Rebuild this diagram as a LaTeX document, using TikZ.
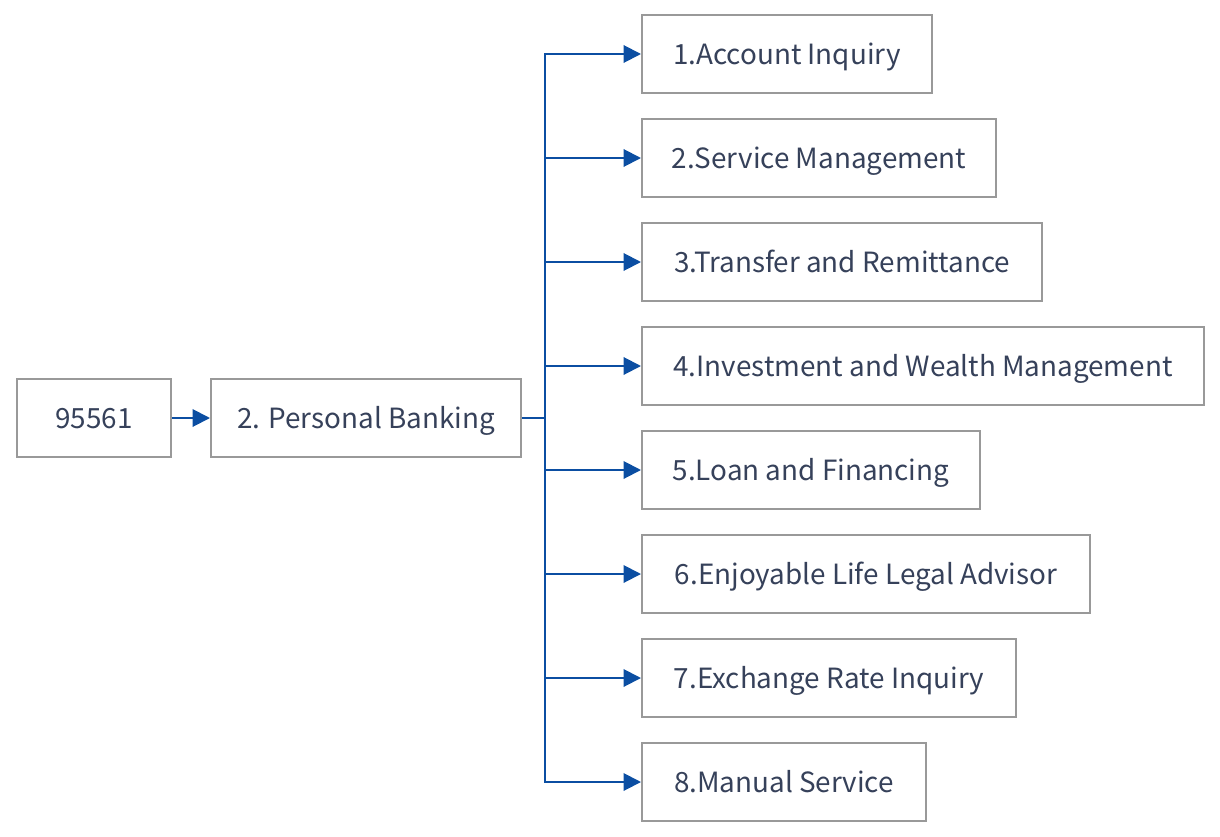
\documentclass[tikz,border=0pt]{standalone}
\usepackage{fontspec}
\setmainfont{Noto Sans CJK SC}
\usetikzlibrary{arrows.meta, positioning}
\definecolor{linkblue}{HTML}{0B4EA2}
\definecolor{boxgray}{HTML}{999999}
\definecolor{textslate}{HTML}{36415A}

\begin{document}
\begin{tikzpicture}[x=0.6pt, y=-0.6pt, >={Triangle[length=10.5pt, width=10.5pt]},
  every node/.style={draw=boxgray, line width=1.2pt, minimum height=46.8pt, inner xsep=0pt,
    text height=16pt, text depth=3pt, text=textslate, font=\fontsize{16.7}{20}\selectfont},
  link/.style={draw=linkblue, line width=1.2pt}]
\useasboundingbox (0,0) rectangle (1220,836);

  \node (hotline) [minimum width=92.4pt] at (94,418) {95561};
  \node (personal) [minimum width=186pt] at (366,418) {2. Personal Banking};
  \coordinate (trunk) at (545,418);

  \node (acct) [anchor=west, minimum width=174pt] at (641,54) {1.Account Inquiry};
  \node (service) [anchor=west, minimum width=212.4pt] at (641,158) {2.Service Management};
  \node (transfer) [anchor=west, minimum width=240pt] at (641,262) {3.Transfer and Remittance};
  \node (invest) [anchor=west, minimum width=337.2pt] at (641,366) {4.Investment and Wealth Management};
  \node (loan) [anchor=west, minimum width=202.8pt] at (641,470) {5.Loan and Financing};
  \node (legal) [anchor=west, minimum width=268.8pt] at (641,574) {6.Enjoyable Life Legal Advisor};
  \node (rate) [anchor=west, minimum width=224.4pt] at (641,678) {7.Exchange Rate Inquiry};
  \node (manual) [anchor=west, minimum width=170.4pt] at (641,782) {8.Manual Service};

  \draw[link, ->] (hotline) -- (personal);
  \draw[link] (personal.east) -- (trunk);
  \draw[link, ->] (trunk) |- (acct.west);
  \draw[link, ->] (trunk) |- (service.west);
  \draw[link, ->] (trunk) |- (transfer.west);
  \draw[link, ->] (trunk) |- (invest.west);
  \draw[link, ->] (trunk) |- (loan.west);
  \draw[link, ->] (trunk) |- (legal.west);
  \draw[link, ->] (trunk) |- (rate.west);
  \draw[link, ->] (trunk) |- (manual.west);
\end{tikzpicture}
\end{document}
